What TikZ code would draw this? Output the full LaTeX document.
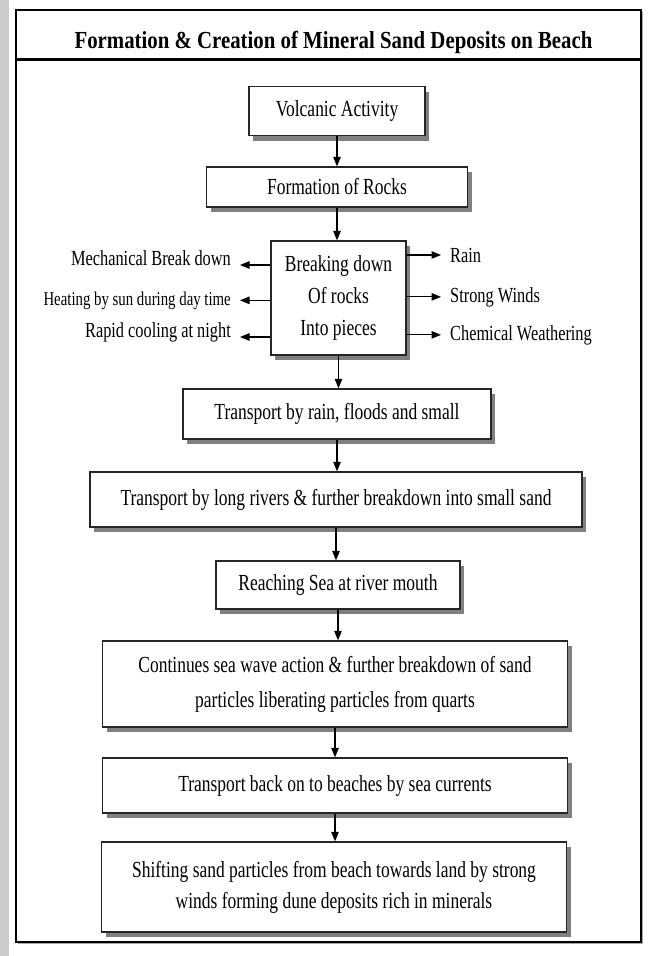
\documentclass[tikz,border=0pt]{standalone}
\usepackage{fontspec}
\setmainfont{Liberation Serif}[FakeStretch=0.76]
\newfontfamily\titlefont{Liberation Serif}[FakeStretch=0.85]
\usetikzlibrary{arrows.meta,shadows}

\begin{document}
\begin{tikzpicture}[x=1pt, y=-1pt,
  stage/.style={rectangle, draw=black!85, line width=1.3pt, fill=white, inner sep=0pt, align=center, font=\fontsize{23}{32}\selectfont, drop shadow={shadow xshift=4pt, shadow yshift=-5pt, fill=black!50, opacity=1}},
  side/.style={inner xsep=9pt, inner ysep=0pt, font=\fontsize{21.5}{26}\selectfont},
  arr/.style={-{Triangle[length=9.5pt,width=7.5pt]}, line width=1.1pt}]
  \useasboundingbox (0,0) rectangle (648,956);
  \fill[black!20] (0,0) rectangle (9,956);
  \draw[line width=1.5pt, fill=white, drop shadow={shadow xshift=2pt, shadow yshift=-2pt, fill=black!35, opacity=1}] (16,10) rectangle (641,942);
  \draw[line width=3pt] (16,59) -- (641,59);
  \node[anchor=base, font=\titlefont\bfseries\fontsize{24.5}{28}\selectfont] (title) at (333.5,48) {Formation \& Creation of Mineral Sand Deposits on Beach};

  \node[stage, minimum width=176pt, minimum height=49pt] (volc) at (337,111) {Volcanic Activity};
  \node[stage, minimum width=261pt, minimum height=40pt] (rocks) at (337,187) {Formation of Rocks};
  \node[stage, minimum width=135pt, minimum height=114pt] (break) at (338.5,298) {Breaking down\\ Of rocks\\ Into pieces};
  \node[stage, minimum width=308pt, minimum height=50pt] (rain) at (337,414) {Transport by rain, floods and small};
  \node[stage, minimum width=492pt, minimum height=55pt] (river) at (336,499.5) {Transport by long rivers \& further breakdown into small sand};
  \node[stage, minimum width=244pt, minimum height=48pt] (sea) at (338,585) {Reaching Sea at river mouth};
  \node[stage, minimum width=465pt, minimum height=86pt, font=\fontsize{23}{35}\selectfont] (wave) at (335,684) {Continues sea wave action \& further breakdown of sand\\ particles liberating particles from quarts};
  \node[stage, minimum width=465pt, minimum height=55pt] (back) at (335,785.5) {Transport back on to beaches by sea currents};
  \node[stage, minimum width=465pt, minimum height=90pt, font=\fontsize{23}{31}\selectfont] (dune) at (334,887) {Shifting sand particles from beach towards land by strong\\ winds forming dune deposits rich in minerals};

  \node[side, anchor=base east] (mech) at (240,265) {Mechanical Break down};
  \node[side, anchor=base east, font=\fontsize{19.5}{24}\selectfont] (heat) at (240,305) {Heating by sun during day time};
  \node[side, anchor=base east] (cool) at (240,337) {Rapid cooling at night};
  \node[side, anchor=base west] (wet) at (441,262) {Rain};
  \node[side, anchor=base west] (wind) at (441,302) {Strong Winds};
  \node[side, anchor=base west] (chem) at (441,340) {Chemical Weathering};

  \draw[arr] (volc.south) -- (volc.south |- rocks.north);
  \draw[arr] (rocks.south) -- (rocks.south |- break.north);
  \draw[arr] (break.south) -- (break.south |- rain.north);
  \draw[arr] (rain.south) -- (rain.south |- river.north);
  \draw[arr] (river.south) -- (river.south |- sea.north);
  \draw[arr] (sea.south) -- (sea.south |- wave.north);
  \draw[arr] (wave.south) -- (wave.south |- back.north);
  \draw[arr] (back.south) -- (back.south |- dune.north);

  \draw[arr] (break.west |- mech.base east) -- (mech.base east);
  \draw[arr] (break.west |- heat.east) -- (heat.east);
  \draw[arr] (break.west |- cool.base east) -- (cool.base east);
  \draw[arr] (break.east |- wet.west) -- (wet.west);
  \draw[arr] (break.east |- wind.west) -- (wind.west);
  \draw[arr] (break.east |- chem.west) -- (chem.west);
\end{tikzpicture}
\end{document}
